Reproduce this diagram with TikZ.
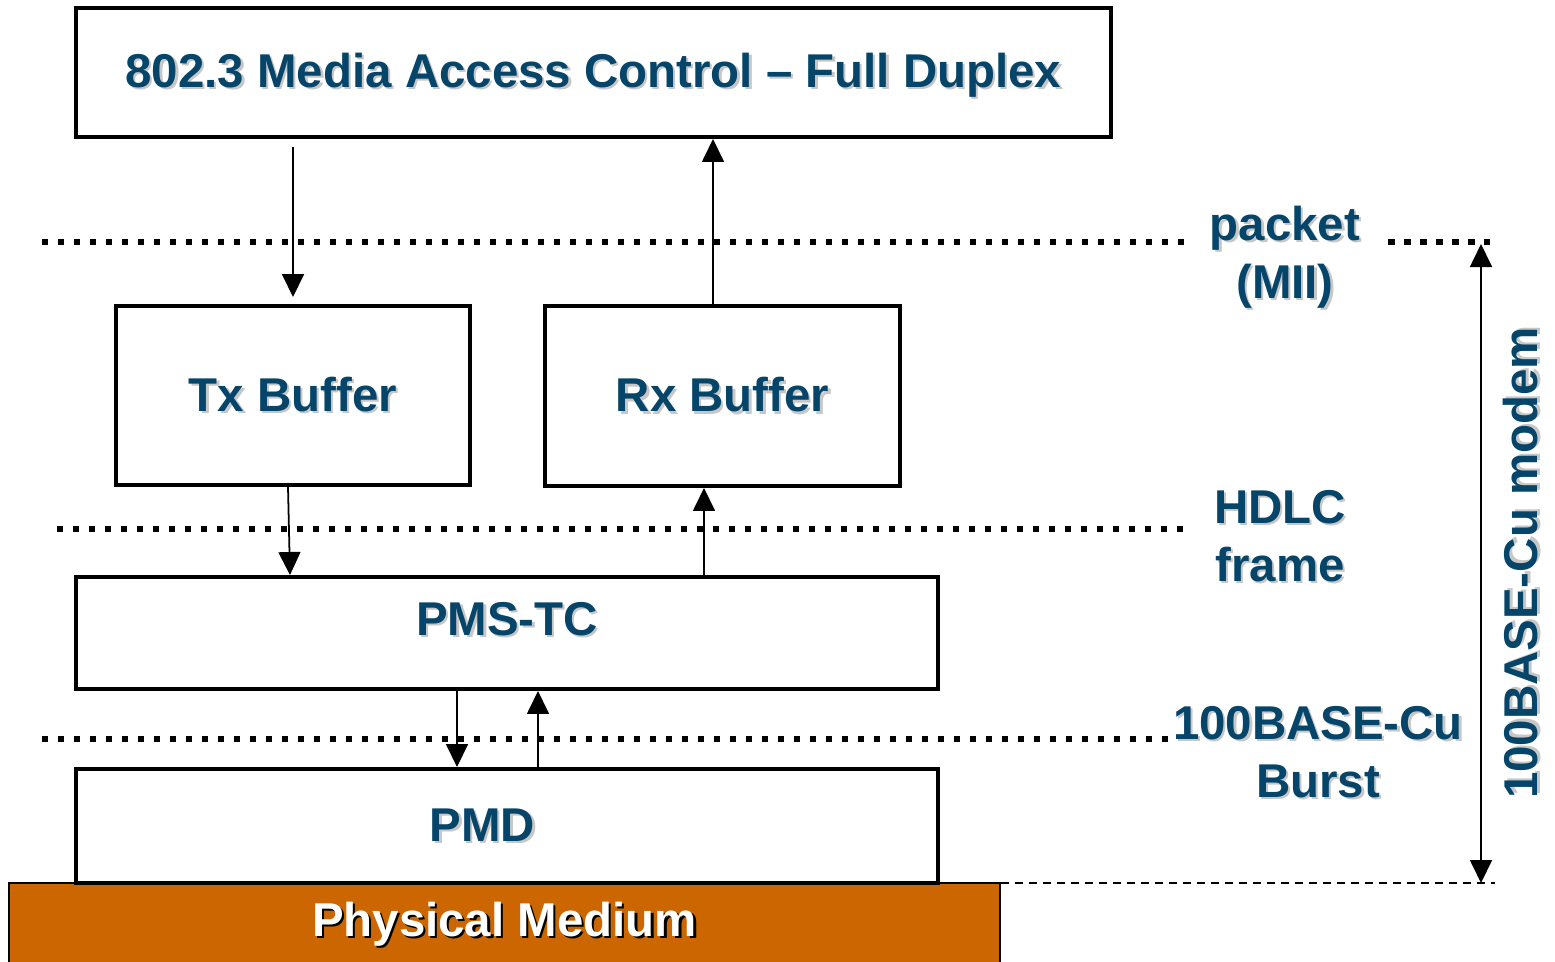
\documentclass[tikz,border=0pt]{standalone}
\usepackage{fontspec}
\setmainfont{Liberation Sans}
\usetikzlibrary{arrows.meta, calc, positioning}
\definecolor{laytext}{HTML}{05456A}
\definecolor{medium}{HTML}{CC6600}
\newcommand\shtxt[2][black!22]{\leavevmode\rlap{\hspace{1.3pt}\raisebox{-1.3pt}{\color{#1}#2}}#2}

\begin{document}
\begin{tikzpicture}[x=0.02cm, y=-0.02cm,
        >={Triangle[length=0.46cm, width=0.44cm]},
        layer/.style={draw, line width=0.08cm, fill=white, inner sep=0pt},
        lbl/.style={text=laytext, font=\fontsize{27}{33}\selectfont\bfseries, align=center},
        flow/.style={->, line width=1pt},
        levelline/.style={line width=0.13cm, dash pattern=on 0.13cm off 0.19cm}]
    \useasboundingbox (0,0) rectangle (1555,961);
    \node[draw, line width=1.2pt, fill=medium, minimum width=19.82cm, minimum height=1.68cm,
        text=white, font=\fontsize{27}{33}\selectfont\bfseries] (phy) at (504.5,925) {\shtxt[black]{Physical Medium}};
    \node[layer, minimum width=20.7cm, minimum height=2.58cm,
        label={[lbl, yshift=-0.08cm]center:\shtxt{802.3 Media Access Control – Full Duplex}}] (mac) at (593.5,72.5) {};
    \node[layer, lbl, minimum width=7.08cm, minimum height=3.58cm] (tx) at (293,395.5) {\shtxt{Tx Buffer}};
    \node[layer, lbl, minimum width=7.1cm, minimum height=3.6cm] (rx) at (722.5,396) {\shtxt{Rx Buffer}};
    \node[layer, minimum width=17.24cm, minimum height=2.24cm,
        label={[lbl, yshift=0.26cm]center:\shtxt{PMS-TC}}] (pms) at (507,633) {};
    \node[layer, minimum width=17.24cm, minimum height=2.28cm,
        label={[lbl, xshift=-0.49cm]center:\shtxt{PMD}}] (pmd) at (507,826) {};

    \draw[levelline] (42,242) -- (1185,242);
    \draw[levelline] (1388,242) -- (1490,242);
    \draw[levelline] (57,529) -- (1185,529);
    \draw[levelline] (42,739) -- (1170,739);

    \node[lbl] (mii) at (1285,258) {\shtxt{packet}\\\shtxt{(MII)}};
    \node[lbl] (hdlc) at (1280,537) {\shtxt{HDLC}\\\shtxt{frame}};
    \node[lbl] (burst) at (1318,753) {\shtxt{100BASE-Cu}\\\shtxt{Burst}};
    \node[lbl, rotate=90] (modem) at (1522,563) {\shtxt{100BASE-Cu modem}};

    \coordinate (mtop) at (1481,244);
    \coordinate (mbot) at (1481,883);
    \draw[line width=1pt, dash pattern=on 0.16cm off 0.12cm] (phy.east |- mbot) -- ($(mbot)+(14,0)$);
    \draw[flow, <->] (mtop) -- (mbot);

    \draw[flow, shorten <=0.16cm, shorten >=0.14cm] (tx.north |- mac.south) -- (tx.north);
    \draw[flow] ($(rx.north)+(-9.5,0)$) -- ($(rx.north |- mac.south)+(-9.5,0)$);
    \draw[flow] ($(tx.south)+(-5,0)$) -- ($(tx.south |- pms.north)+(-3,0)$);
    \draw[flow] ($(rx.south |- pms.north)+(-18.5,0)$) -- ($(rx.south)+(-18.5,0)$);
    \draw[flow] ($(pms.south)+(-50,0)$) -- ($(pmd.north)+(-50,0)$);
    \draw[flow] ($(pmd.north)+(31,0)$) -- ($(pms.south)+(31,0)$);
\end{tikzpicture}
\end{document}
